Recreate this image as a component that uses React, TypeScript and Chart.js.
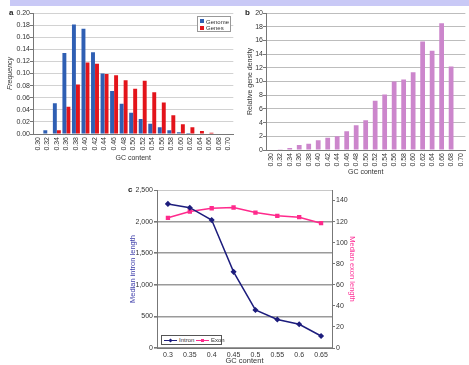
import React, { useEffect, useRef } from 'react';
import { Chart, registerables } from 'chart.js';
Chart.register(...registerables);

const FONT = '"Liberation Sans", Arial, Helvetica, sans-serif';

// Panel a / b categories
const gcBins = ['0.30','0.32','0.34','0.36','0.38','0.40','0.42','0.44','0.46','0.48','0.50','0.52','0.54','0.56','0.58','0.60','0.62','0.64','0.66','0.68','0.70'];
const genomeFreq = [0, 0.006, 0.051, 0.134, 0.181, 0.174, 0.135, 0.100, 0.071, 0.050, 0.035, 0.025, 0.017, 0.011, 0.006, 0.003, 0.0015, 0, 0, 0, 0];
const genesFreq = [0, 0, 0.006, 0.045, 0.082, 0.118, 0.116, 0.099, 0.097, 0.089, 0.075, 0.088, 0.069, 0.052, 0.031, 0.016, 0.011, 0.005, 0.002, 0, 0];
const geneDensity = [0, 0.1, 0.3, 0.73, 0.93, 1.42, 1.8, 2.0, 2.74, 3.6, 4.35, 7.2, 8.1, 10.0, 10.3, 11.35, 15.85, 14.5, 18.5, 12.2, 0];

// Panel c
const gcC = ['0.3','0.35','0.4','0.45','0.5','0.55','0.6','0.65'];
const intronLen = [2280, 2220, 2025, 1205, 602, 450, 375, 190];
const exonLen = [123.6, 129.6, 132.7, 133.4, 128.6, 125.5, 124.2, 118.5];

const TXT = '#333';
const AX = '#777';

const cfgA = () => ({
  type: 'bar',
  data: {
    labels: gcBins,
    datasets: [
      { label: 'Genome', data: genomeFreq, backgroundColor: '#2f5fb3', categoryPercentage: 0.84, barPercentage: 0.98 },
      { label: 'Genes', data: genesFreq, backgroundColor: '#e3141b', categoryPercentage: 0.84, barPercentage: 0.98 },
    ],
  },
  options: {
    responsive: false, animation: false, devicePixelRatio: 1,
    layout: { padding: { top: 13, right: 2, left: 0, bottom: 0 } },
    plugins: { legend: { display: false }, tooltip: { enabled: false } },
    scales: {
      x: {
        grid: { display: false, drawTicks: false, tickLength: 0 }, border: { color: AX },
        ticks: { autoSkip: false, minRotation: 90, maxRotation: 90, padding: 3, color: TXT, font: { family: FONT, size: 7 } },
        title: { display: true, text: 'GC content', color: TXT, font: { family: FONT, size: 7 }, padding: 0 },
        afterFit: (s: any) => { s.height = 28; },
      },
      y: {
        min: 0, max: 0.2,
        ticks: { stepSize: 0.02, padding: 0, color: TXT, font: { family: FONT, size: 7 }, callback: (v: any) => Number(v).toFixed(2) },
        grid: { color: '#d2d2d2', tickLength: 3, tickColor: AX },
        border: { color: AX },
        title: { display: true, text: 'Frequency', color: TXT, font: { family: FONT, size: 7, style: 'italic' }, padding: { top: 6, bottom: 0 } },
        afterFit: (s: any) => { s.width = 33; },
      },
    },
  },
});

const cfgB = () => ({
  type: 'bar',
  data: {
    labels: gcBins,
    datasets: [
      { label: 'Relative gene density', data: geneDensity, backgroundColor: '#cc86cc', categoryPercentage: 1, barPercentage: 0.5 },
    ],
  },
  options: {
    responsive: false, animation: false, devicePixelRatio: 1,
    layout: { padding: { top: 13, right: 0, left: 0, bottom: 0 } },
    plugins: { legend: { display: false }, tooltip: { enabled: false } },
    scales: {
      x: {
        grid: { display: false, drawTicks: false, tickLength: 0 }, border: { color: AX },
        ticks: { autoSkip: false, minRotation: 90, maxRotation: 90, padding: 3, color: TXT, font: { family: FONT, size: 7 } },
        title: { display: true, text: 'GC content', color: TXT, font: { family: FONT, size: 7 }, padding: 0 },
        afterFit: (s: any) => { s.height = 26; },
      },
      y: {
        min: 0, max: 20,
        ticks: { stepSize: 2, padding: 0, color: TXT, font: { family: FONT, size: 7 } },
        grid: { color: '#bdbdbd', tickLength: 3, tickColor: AX },
        border: { color: AX },
        title: { display: true, text: 'Relative gene density', color: TXT, font: { family: FONT, size: 7 }, padding: { top: 10, bottom: 0 } },
        afterFit: (s: any) => { s.width = 30; },
      },
    },
  },
});

const cfgC = () => ({
  type: 'line',
  data: {
    labels: gcC,
    datasets: [
      { label: 'Intron', data: intronLen, borderColor: '#1d1d7d', backgroundColor: '#1d1d7d', borderWidth: 1.5, pointStyle: 'rectRot', pointRadius: 2, tension: 0, yAxisID: 'y' },
      { label: 'Exon', data: exonLen, borderColor: '#ff2a8c', backgroundColor: '#ff2a8c', borderWidth: 1.5, pointStyle: 'rect', pointRadius: 2, tension: 0, yAxisID: 'y1' },
    ],
  },
  options: {
    responsive: false, animation: false, devicePixelRatio: 1,
    layout: { padding: { top: 10, right: 0, left: 0, bottom: 0 } },
    plugins: { legend: { display: false }, tooltip: { enabled: false } },
    scales: {
      x: {
        offset: true,
        grid: { display: false, drawTicks: false, tickLength: 0 }, border: { color: AX },
        ticks: { padding: 3, color: TXT, font: { family: FONT, size: 7 } },
        title: { display: true, text: 'GC content', color: TXT, font: { family: FONT, size: 7.5, lineHeight: 1 }, padding: 0 },
        afterFit: (s: any) => { s.height = 17; },
      },
      y: {
        position: 'left', min: 0, max: 2500,
        ticks: { stepSize: 500, padding: 1, color: TXT, font: { family: FONT, size: 7 }, callback: (v: any) => Number(v).toLocaleString('en-US') },
        grid: { color: (c: any) => (c.tick && c.tick.value === 2500 ? '#c8c8c8' : '#9a9a9a'), lineWidth: (c: any) => (c.tick && c.tick.value === 2500 ? 1 : 1.6), tickLength: 3, tickColor: AX },
        border: { color: AX },
        title: { display: true, text: 'Median intron length', color: '#3b3ba8', font: { family: FONT, size: 7.5 }, padding: { top: 8, bottom: 0 } },
        afterFit: (s: any) => { s.width = 37; },
      },
      y1: {
        position: 'right', min: 0, max: 150,
        ticks: { stepSize: 20, padding: 1, color: TXT, font: { family: FONT, size: 7 } },
        afterBuildTicks: (s: any) => { s.ticks = s.ticks.filter((t: any) => t.value <= 140); },
        grid: { drawOnChartArea: false, tickLength: 3, tickColor: AX },
        border: { color: AX },
        title: { display: true, text: 'Median exon length', color: '#ff3399', font: { family: FONT, size: 7.5 }, padding: { top: 13, bottom: 0 } },
        afterFit: (s: any) => { s.width = 38; },
      },
    },
  },
});

function ChartBox({ left, top, width, height, make }: any) {
  const ref = useRef<HTMLCanvasElement>(null);
  useEffect(() => {
    const chart = new Chart(ref.current as any, make() as any);
    return () => chart.destroy();
  }, []);
  return (
    <canvas ref={ref} width={width} height={height}
      style={{ position: 'absolute', left, top, width, height }} />
  );
}

const label = (text: string, left: number, top: number, size: number, extra: any = {}) => (
  <div style={{ position: 'absolute', left, top, fontSize: size, lineHeight: 1, fontFamily: FONT, color: '#222', whiteSpace: 'nowrap', ...extra }}>{text}</div>
);

export default function App() {
  return (
    <div style={{ position: 'fixed', left: 0, top: 0, width: 469, height: 365, overflow: 'hidden', background: '#fff', fontFamily: FONT }}>
      <div style={{ position: 'absolute', left: 10, top: 0, width: 459, height: 6, background: '#c9c9f6' }} />
      <ChartBox left={0} top={0} width={240} height={162} make={cfgA} />
      <ChartBox left={236} top={0} width={236} height={176} make={cfgB} />
      <ChartBox left={120} top={180} width={250} height={185} make={cfgC} />

      {label('a', 9, 9, 8, { fontWeight: 'bold' })}
      {label('b', 245, 9, 8, { fontWeight: 'bold' })}
      {label('c', 128, 186, 8, { fontWeight: 'bold' })}

      <div style={{ position: 'absolute', left: 197, top: 16, width: 32, height: 14, border: '1px solid #999', background: '#fff', fontFamily: FONT, fontSize: 6, color: '#333', lineHeight: 1 }}>
        <div style={{ position: 'absolute', left: 2, top: 2, width: 4, height: 4, background: '#2f5fb3' }} />
        <div style={{ position: 'absolute', left: 8, top: 1.5 }}>Genome</div>
        <div style={{ position: 'absolute', left: 2, top: 8.5, width: 4, height: 4, background: '#e3141b' }} />
        <div style={{ position: 'absolute', left: 8, top: 8 }}>Genes</div>
      </div>

      <div style={{ position: 'absolute', left: 161, top: 335, width: 59, height: 8, border: '1px solid #555', background: '#fff', fontFamily: FONT, fontSize: 6, color: '#333', lineHeight: 1 }}>
        <div style={{ position: 'absolute', left: 2, top: 3.5, width: 13, height: 1.2, background: '#1d1d7d' }} />
        <div style={{ position: 'absolute', left: 7, top: 2.5, width: 3, height: 3, background: '#1d1d7d', transform: 'rotate(45deg)' }} />
        <div style={{ position: 'absolute', left: 17, top: 1 }}>Intron</div>
        <div style={{ position: 'absolute', left: 34, top: 3.5, width: 13, height: 1.2, background: '#ff2a8c' }} />
        <div style={{ position: 'absolute', left: 39, top: 2.5, width: 3, height: 3, background: '#ff2a8c' }} />
        <div style={{ position: 'absolute', left: 49, top: 1 }}>Exon</div>
      </div>
    </div>
  );
}
